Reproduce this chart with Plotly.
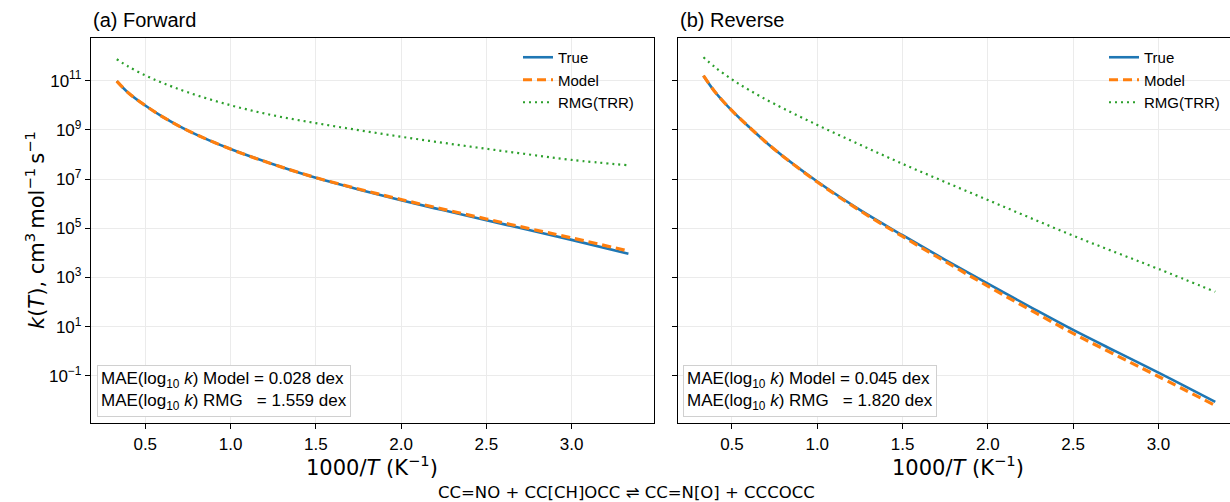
import numpy as np
import plotly.graph_objects as go

# ---------------- data ----------------
inv_T = [0.333, 0.4, 0.5, 0.6, 0.75, 1.0, 1.25, 1.5, 1.75, 2.0, 2.25, 2.5, 2.75, 3.0, 3.333]

# Forward, log10 k
fwd_true_log10k = [10.98, 10.51, 9.99, 9.54, 8.97, 8.22, 7.6, 7.05, 6.58, 6.14, 5.73, 5.33, 4.93, 4.53, 3.97]
fwd_model_log10k = [10.98, 10.51, 9.99, 9.54, 8.97, 8.22, 7.6, 7.06, 6.6, 6.17, 5.77, 5.38, 4.99, 4.61, 4.08]
fwd_rmg_log10k = [11.87, 11.575, 11.215, 10.915, 10.525, 10.0, 9.59, 9.275, 8.99, 8.72, 8.47, 8.23, 8.0, 7.78, 7.56]

# Reverse, log10 k
rev_true_log10k = [11.2, 10.55, 9.78, 9.12, 8.2, 6.9, 5.75, 4.72, 3.72, 2.75, 1.8, 0.87, 0.0, -0.86, -2.05]
rev_model_log10k = [11.2, 10.55, 9.78, 9.12, 8.2, 6.88, 5.72, 4.67, 3.65, 2.65, 1.68, 0.73, -0.15, -1.02, -2.2]
rev_rmg_log10k = [11.95, 11.55, 11.05, 10.62, 10.05, 9.2, 8.4, 7.62, 6.88, 6.15, 5.42, 4.7, 4.02, 3.35, 2.42]

x_ticks = [0.5, 1.0, 1.5, 2.0, 2.5, 3.0]
x_ticktext = ["0.5", "1.0", "1.5", "2.0", "2.5", "3.0"]
y_exponents = [-1, 1, 3, 5, 7, 9, 11]

series_names = ["True", "Model", "RMG(TRR)"]
mae_forward = ["0.028", "1.559"]
mae_reverse = ["0.045", "1.820"]
panel_titles = ["(a) Forward", "(b) Reverse"]
reaction = "CC=NO + CC[CH]OCC \u21cc CC=N[O] + CCCOCC"

# ---------------- styling ----------------
W, H = 1230, 502
TICK_FONT = dict(family="Liberation Sans, Arial, sans-serif", size=17, color="black")
MATH_FONT = dict(family="DejaVu Sans, sans-serif", size=21, color="black")
LEG_FONT = dict(family="Liberation Sans, Arial", size=15, color="black")
colors = ["#1f77b4", "#ff7f0e", "#2ca02c"]
dashes = ["solid", "9px,5px", "2px,4px"]
widths = [2.6, 3.2, 2.2]

fig = go.Figure()

panels = [
    ("x", "y", "legend", [fwd_true_log10k, fwd_model_log10k, fwd_rmg_log10k]),
    ("x2", "y2", "legend2", [rev_true_log10k, rev_model_log10k, rev_rmg_log10k]),
]
for xa, ya, leg, series in panels:
    for name, vals, c, d, w in zip(series_names, series, colors, dashes, widths):
        fig.add_trace(go.Scatter(
            x=inv_T, y=10.0 ** np.array(vals), mode="lines", name=name,
            line=dict(color=c, dash=d, width=w, shape="spline", smoothing=1.0),
            xaxis=xa, yaxis=ya, legend=leg, showlegend=True))

y_tickvals = [10.0 ** e for e in y_exponents]
y_ticktext = [f"10<sup>{str(e).replace('-', '\u2212')}</sup>" for e in y_exponents]

ydom = [(H - 423) / H, (H - 38.3) / H]
yr = [-2.91, 12.72]
common_axis = dict(showline=True, linecolor="black", linewidth=1.3, ticks="outside",
                   ticklen=5, tickwidth=1.2, tickcolor="black", showgrid=True,
                   gridcolor="#ebebeb", gridwidth=1, zeroline=False, tickfont=TICK_FONT)

fig.update_layout(
    width=W, height=H, margin=dict(l=0, r=0, t=0, b=0),
    plot_bgcolor="white", paper_bgcolor="white",
    xaxis=dict(domain=[91 / W, 653.5 / W], range=[0.182, 3.48], anchor="y",
               tickvals=x_ticks, ticktext=x_ticktext, mirror=True, **common_axis),
    yaxis=dict(domain=ydom, type="log", range=yr, anchor="x",
               tickvals=y_tickvals, ticktext=y_ticktext, mirror=True, **common_axis),
    xaxis2=dict(domain=[677.7 / W, 1.0], range=[0.182, 0.182 + (W - 677.7) / 170.6], anchor="y2",
                tickvals=x_ticks, ticktext=x_ticktext, mirror=True, **common_axis),
    yaxis2=dict(domain=ydom, type="log", range=yr, anchor="x2",
                tickvals=y_tickvals, ticktext=y_ticktext, showticklabels=False,
                mirror=False, **common_axis),
    legend=dict(x=518 / W, y=(H - 41) / H, xanchor="left", yanchor="top",
                bgcolor="rgba(0,0,0,0)", font=LEG_FONT, itemwidth=30, tracegroupgap=0),
    legend2=dict(x=1104 / W, y=(H - 41) / H, xanchor="left", yanchor="top",
                 bgcolor="rgba(0,0,0,0)", font=LEG_FONT, itemwidth=30, tracegroupgap=0),
)

ann = []
# panel titles
for t, xpx in zip(panel_titles, [91, 677.7]):
    ann.append(dict(text=t, xref="paper", yref="paper", x=xpx / W, y=(H - 20) / H,
                    xanchor="left", yanchor="middle", showarrow=False,
                    font=dict(family="Liberation Sans, Arial", size=20, color="black")))
# x axis titles
for xc in [372, 958]:
    ann.append(dict(text="1000/<i>T</i> (K<sup>\u22121</sup>)", xref="paper", yref="paper",
                    x=xc / W, y=(H - 466) / H, xanchor="center", yanchor="middle",
                    showarrow=False, font=MATH_FONT))
# y axis title
ann.append(dict(text="<i>k</i>(<i>T</i>), cm<sup>3</sup>\u2009mol<sup>\u22121</sup>\u2009s<sup>\u22121</sup>",
                xref="paper", yref="paper", x=35 / W, y=(H - 230) / H, textangle=-90,
                xanchor="center", yanchor="middle", showarrow=False, font=MATH_FONT))
# MAE boxes
nb = "\u00a0"
for (m1, m2), xpx in zip([mae_forward, mae_reverse], [97, 683]):
    txt = (f"MAE(log<sub>10</sub>{nb}<i>k</i>) Model = {m1} dex<br>"
           f"MAE(log<sub>10</sub>{nb}<i>k</i>) RMG{nb}{nb}{nb}= {m2} dex")
    ann.append(dict(text=txt, xref="paper", yref="paper", x=xpx / W, y=(H - 417) / H,
                    xanchor="left", yanchor="bottom", align="left", showarrow=False,
                    bgcolor="white", bordercolor="#d0d0d0", borderwidth=1, borderpad=3,
                    font=dict(family="Liberation Sans, Arial", size=17, color="black")))
# reaction caption
ann.append(dict(text=reaction, xref="paper", yref="paper", x=626 / W, y=(H - 492) / H,
                xanchor="center", yanchor="middle", showarrow=False,
                font=dict(family="DejaVu Sans, sans-serif", size=16.5, color="black")))
fig.update_layout(annotations=ann)

fig.write_html("out.html")
